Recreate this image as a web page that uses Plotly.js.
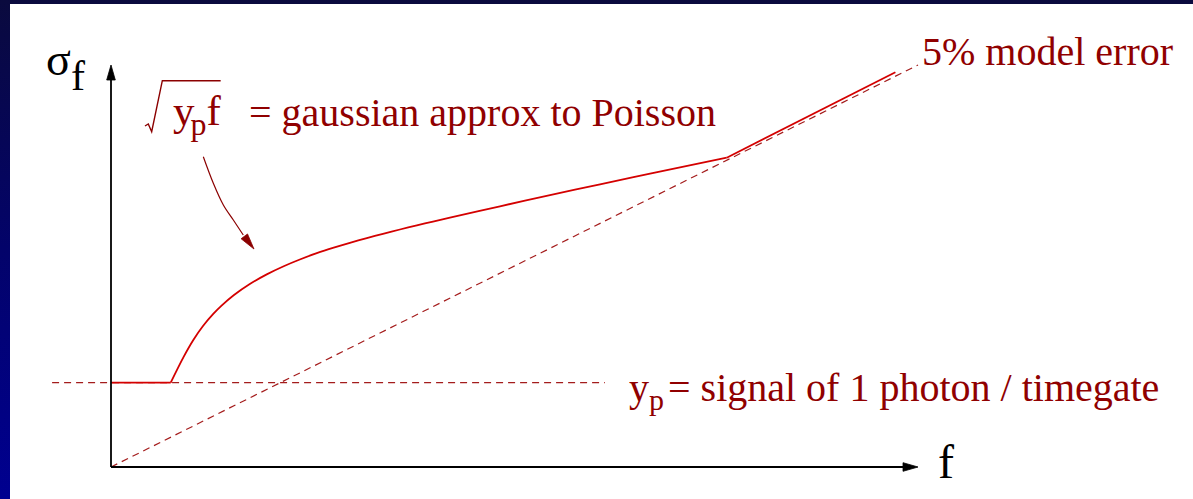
<!DOCTYPE html>
<html>
<head>
<meta charset="utf-8">
<script src="https://cdn.plot.ly/plotly-3.0.1.min.js"></script>
<style>
  html, body { margin: 0; padding: 0; }
  #chart {
    width: 1193px; height: 499px;
    background: linear-gradient(to bottom, #0a0a3e 0%, #03036a 50%, #000090 100%);
  }
</style>
</head>
<body>
<div id="chart"></div>
<script>
// Noise model for the measured signal f: sigma_f versus f
const fAxisEnd = 10;          // length of the f axis
const sigmaAxisEnd = 5;       // length of the sigma_f axis

// photon floor: signal of one photon per timegate
const photonLevel = 1.05;
const photonLineF = [-0.73, 6.12];
const photonLineSigma = [photonLevel, photonLevel];

// 5% model error line
const modelErrorF = [0, 10];
const modelErrorSigma = [0, 5];

// combined noise curve: photon floor, Poisson regime, model-error regime
const noiseF = [0, 0.74, 0.90, 1.02, 1.14, 1.27, 1.37, 1.52, 1.72, 1.93, 2.14, 2.34,
                2.55, 2.76, 2.96, 3.17, 3.37, 3.58, 3.79, 3.99, 4.20, 4.82, 5.44, 6.06,
                6.68, 7.63, 9.72];
const noiseSigma = [1.05, 1.05, 1.37, 1.58, 1.754, 1.907, 2.007, 2.136, 2.276, 2.396, 2.497,
                    2.581, 2.659, 2.728, 2.788, 2.847, 2.900, 2.954, 3.005, 3.053, 3.102,
                    3.243, 3.381, 3.516, 3.648, 3.847, 4.91];
const poissonStart = 1;       // index where the floor gives way to the Poisson term
const modelErrorStart = 25;   // index where the 5% term takes over

// curved pointer from the label to the curve
const pointerF = [1.144, 1.268, 1.392, 1.516, 1.639];
const pointerSigma = [3.859, 3.529, 3.259, 3.072, 2.886];
const pointerTip = [1.772, 2.711];

// radical sign drawn around y_p f
const radicalF = [0.421, 0.462, 0.504, 0.636, 1.359];
const radicalSigma = [4.241, 4.266, 4.170, 4.805, 4.805];

const RED_TEXT = '#900000';
const RED_LINE = '#d40000';
const RED_DASH = '#a41c1c';
const SERIF = 'Liberation Serif, Times New Roman, serif';

// lowered, smaller index letter kept inside the same text line
function sub(letter, size, drop, gap) {
  return '<span style="font-size:' + size + 'px;baseline-shift:-' + drop +
         'px;letter-spacing:' + gap + 'px">' + letter + '</span>';
}

function segment(from, to, shape) {
  return { x: noiseF.slice(from, to + 1), y: noiseSigma.slice(from, to + 1), mode: 'lines',
           line: { color: RED_LINE, width: 1.8, shape: shape, smoothing: 0.9 } };
}

const traces = [
  { x: photonLineF, y: photonLineSigma, mode: 'lines',
    line: { color: RED_DASH, width: 1.2, dash: '7px,5px' } },
  { x: modelErrorF, y: modelErrorSigma, mode: 'lines',
    line: { color: RED_DASH, width: 1.2, dash: '7px,5px' } },
  segment(0, poissonStart, 'linear'),
  segment(poissonStart, modelErrorStart, 'spline'),
  segment(modelErrorStart, noiseF.length - 1, 'linear'),
  { x: pointerF, y: pointerSigma, mode: 'lines',
    line: { color: '#8b0000', width: 1.2, shape: 'spline' } }
];

function label(text, x, y, size, color) {
  return { text: text, x: x, y: y, xref: 'x', yref: 'y', xanchor: 'left', yanchor: 'top',
           showarrow: false, font: { family: SERIF, size: size, color: color } };
}

// filled arrow head, drawn in pixels around its tip
function head(tip, path, color) {
  return { type: 'path', xref: 'x', yref: 'y', xsizemode: 'pixel', ysizemode: 'pixel',
           xanchor: tip[0], yanchor: tip[1], path: path,
           fillcolor: color, line: { color: color, width: 0.8 } };
}

const annotations = [
  label('σ', -0.830, 5.41, 46, '#000000'),
  label('f', -0.520, 5.179, 42, '#000000'),
  label('f', 10.223, 0.420, 48, '#000000'),

  label('<span style="letter-spacing:-4px">y</span>' + sub('p', 32, 10, 0) + 'f', 0.743, 4.756, 43, RED_TEXT),
  label('= gaussian approx to Poisson', 1.685, 4.709, 40, RED_TEXT),

  label('5% model error', 10.025, 5.467, 40, RED_TEXT),

  label('y' + sub('p', 30, 9, 4) + '= signal of 1 photon / timegate', 6.40, 1.289, 40, RED_TEXT)
];

const radicalPath = 'M' + radicalF.map((f, i) => f + ',' + radicalSigma[i]).join('L');
const axisGap = 0.12;   // axis lines stop under their arrow heads

const layout = {
  width: 1193, height: 499,
  margin: { l: 10, r: 0, t: 4, b: 0, pad: 0 },
  paper_bgcolor: 'rgba(0,0,0,0)',
  plot_bgcolor: '#ffffff',
  showlegend: false,
  xaxis: { range: [-1.2516, 13.4077], visible: false, fixedrange: true },
  yaxis: { range: [-0.398, 5.7587], visible: false, fixedrange: true },
  annotations: annotations,
  shapes: [
    // f axis and sigma_f axis
    { type: 'line', xref: 'x', yref: 'y', x0: 0, y0: 0, x1: fAxisEnd - axisGap, y1: 0,
      line: { color: '#000000', width: 1.8 } },
    { type: 'line', xref: 'x', yref: 'y', x0: 0, y0: 0, x1: 0, y1: sigmaAxisEnd - axisGap,
      line: { color: '#000000', width: 1.8 } },
    head([fAxisEnd, 0], 'M0,0L-15,4.3L-15,-4.3Z', '#000000'),
    head([0, sigmaAxisEnd], 'M0,0L-4.3,-15L4.3,-15Z', '#000000'),
    head(pointerTip, 'M0,0L-6.5,15.1L-12.9,10.3Z', '#8b0000'),
    // radical sign
    { type: 'path', xref: 'x', yref: 'y', path: radicalPath,
      line: { color: '#8b0000', width: 1.4 } }
  ]
};

Plotly.newPlot('chart', traces, layout, { staticPlot: true, displayModeBar: false });
</script>
</body>
</html>
